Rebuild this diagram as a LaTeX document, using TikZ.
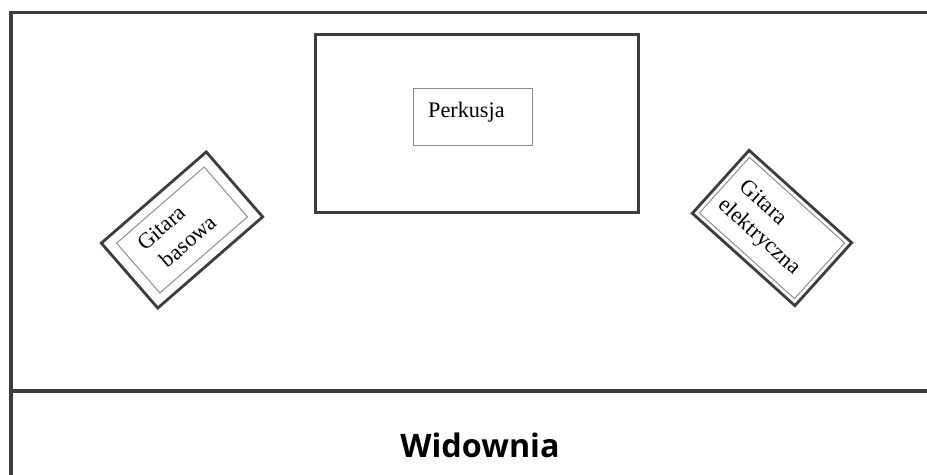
\documentclass[tikz,border=0pt]{standalone}
\usepackage{fontspec}
\setmainfont{Liberation Serif}
\newfontfamily\audfont{Open Sans}
\usetikzlibrary{positioning}

\definecolor{edge}{rgb}{0.24,0.24,0.24}
\definecolor{thin}{rgb}{0.55,0.55,0.55}

\tikzset{
	wall/.style={draw=edge, line width=2.2pt},
	outerbox/.style={draw=edge, line width=2pt, inner sep=0pt},
	innerbox/.style={draw=thin, line width=0.7pt, inner sep=0pt},
	lbl/.style={font=\fontsize{15.8}{19.5}\selectfont, inner sep=0pt, align=left}
}

\begin{document}
\begin{tikzpicture}
	\useasboundingbox (0,0) rectangle (23.175,11.875);

	% hall walls and the audience line
	\draw[wall] (0.275,-0.3) -- (0.275,11.5575) -- (23.5,11.5575);
	\draw[wall] (0.275,2.1) -- (23.5,2.1);

	% stage with drums
	\node[outerbox, minimum width=8.075cm, minimum height=4.45cm] (stage) at (11.92,8.795) {};
	\node[innerbox, minimum width=2.975cm, minimum height=1.425cm] (drums) at (11.82,8.9375) {};
	\node[lbl] (drumstxt) at (11.66,9.075) {Perkusja};

	% bass guitar
	\node[outerbox, rotate=41, minimum width=3.475cm, minimum height=2.15cm] (bass) at (4.55,6.125) {};
	\node[innerbox, rotate=41, minimum width=2.9cm, minimum height=1.65cm] (bassin) at (bass.center) {};
	\node[lbl, rotate=41] (basstxt) at (4.42,6.06) {Gitara\\\hspace*{0.15cm}basowa};

	% electric guitar
	\node[outerbox, rotate=-42, minimum width=3.45cm, minimum height=2.12cm] (elec) at (19.3,6.175) {};
	\node[innerbox, rotate=-42, minimum width=3.2cm, minimum height=1.87cm] (elecin) at (elec.center) {};
	\node[lbl, rotate=-42] (electxt) at (19.2,6.2) {\hspace*{0.1cm}Gitara\\elektryczna};

	% the audience
	\node[font=\audfont\bfseries\fontsize{23}{28}\selectfont, inner sep=0pt] (aud) at (12.0,0.75) {Widownia};
\end{tikzpicture}
\end{document}
